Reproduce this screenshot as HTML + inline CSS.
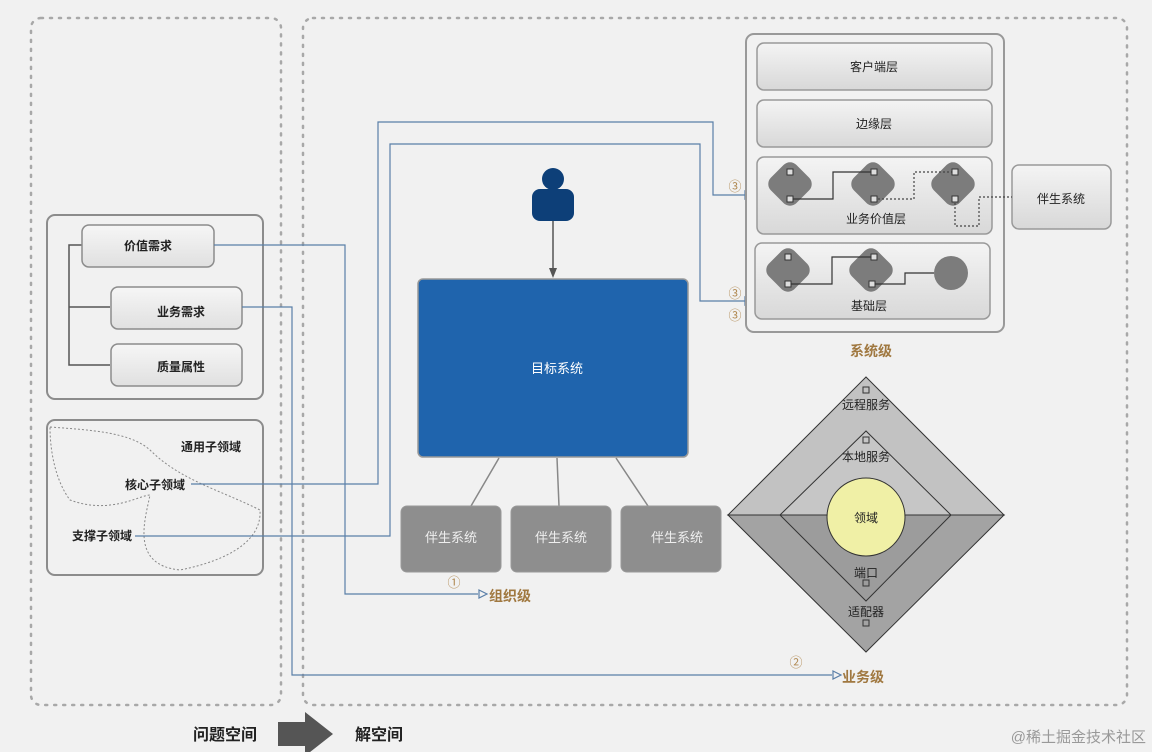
<!DOCTYPE html>
<html><head><meta charset="utf-8"><style>
html,body{margin:0;padding:0;background:#f1f1f1;}
svg{display:block;font-family:"Liberation Sans","Noto Sans CJK SC",sans-serif;}
</style></head><body>
<svg width="1152" height="752" viewBox="0 0 1152 752" xmlns="http://www.w3.org/2000/svg">
<defs>
<linearGradient id="g1" x1="0" y1="0" x2="0" y2="1"><stop offset="0" stop-color="#f4f4f4"/><stop offset="1" stop-color="#d8d8d8"/></linearGradient>
<linearGradient id="g2" x1="0" y1="0" x2="0" y2="1"><stop offset="0" stop-color="#f6f6f6"/><stop offset="1" stop-color="#e0e0e0"/></linearGradient>
</defs>
<rect width="1152" height="752" fill="#f1f1f1"/>
<!-- dotted areas -->
<rect x="31" y="18" width="250" height="687" rx="10" fill="none" stroke="#a8a8a8" stroke-width="2.5" stroke-dasharray="2 7" stroke-linecap="round"/>
<rect x="303" y="18" width="824" height="687" rx="10" fill="none" stroke="#a8a8a8" stroke-width="2.5" stroke-dasharray="2 7" stroke-linecap="round"/>

<!-- requirements box -->
<rect x="47" y="215" width="216" height="184" rx="8" fill="#f1f1f1" stroke="#8c8c8c" stroke-width="2"/>
<path d="M82 245H69V365H110M69 307H110" fill="none" stroke="#555" stroke-width="1.5"/>
<g stroke="#8c8c8c" stroke-width="1.5" fill="url(#g2)">
<rect x="82" y="225" width="132" height="42" rx="7"/>
<rect x="111" y="287" width="131" height="42" rx="7"/>
<rect x="111" y="344" width="131" height="42" rx="7"/>
</g>
<g font-size="12" font-weight="bold" fill="#222" text-anchor="middle">
<text x="148" y="250">价值需求</text>
<text x="181" y="316">业务需求</text>
<text x="181" y="371">质量属性</text>
</g>

<!-- subdomain box -->
<rect x="47" y="420" width="216" height="155" rx="8" fill="#f1f1f1" stroke="#8c8c8c" stroke-width="2"/>
<path d="M50 427 C90 430 130 432 150 450 C180 480 220 490 260 510 C262 540 230 560 180 570 C130 565 145 520 150 495 C140 495 110 515 70 500 C55 480 50 450 50 427 Z" fill="none" stroke="#888" stroke-width="1" stroke-dasharray="2 2"/>
<g font-size="12" font-weight="bold" fill="#222">
<text x="181" y="451">通用子领域</text>
<text x="125" y="489">核心子领域</text>
<text x="72" y="540">支撑子领域</text>
</g>

<!-- blue connectors -->
<g fill="none" stroke="#5a7fa8" stroke-width="1.2">
<path d="M214 245H345V594H478"/>
<path d="M242 307H292V675H832"/>
<path d="M191 484H378V122H713V195H752"/>
<path d="M135 536H390V144H700V301H752"/>
</g>
<g fill="#f1f1f1" stroke="#5a7fa8" stroke-width="1.2">
<path d="M479 590L487 594L479 598Z"/>
<path d="M833 671L841 675L833 679Z"/>
<path d="M745 191L753 195L745 199Z"/>
<path d="M745 297L753 301L745 305Z"/>
</g>
<g font-size="13" fill="#b08850" text-anchor="middle">
<text x="454" y="587">①</text>
<text x="796" y="667">②</text>
<text x="735" y="191">③</text>
<text x="735" y="298">③</text>
<text x="735" y="320">③</text>
</g>
<g font-size="14" font-weight="bold" fill="#a07840">
<text x="489" y="601">组织级</text>
<text x="842" y="682">业务级</text>
<text x="850" y="356">系统级</text>
</g>

<!-- person -->
<circle cx="553" cy="179" r="11" fill="#0d3f78"/>
<rect x="532" y="189" width="42" height="32" rx="8" fill="#0d3f78"/>
<path d="M553 221V270" stroke="#555" stroke-width="1.5"/>
<path d="M549 268L553 278L557 268Z" fill="#555"/>

<!-- target system -->
<rect x="418" y="279" width="270" height="178" rx="5" fill="#1f64ad" stroke="#999" stroke-width="1.5"/>
<text x="557" y="373" font-size="13" fill="#fff" text-anchor="middle">目标系统</text>
<g stroke="#888" stroke-width="1.5">
<path d="M499 458L471 506"/><path d="M557 458L559 506"/><path d="M616 458L648 506"/>
</g>
<g fill="#8e8e8e" stroke="#999" stroke-width="1">
<rect x="401" y="506" width="100" height="66" rx="6"/>
<rect x="511" y="506" width="100" height="66" rx="6"/>
<rect x="621" y="506" width="100" height="66" rx="6"/>
</g>
<g font-size="13" fill="#eee" text-anchor="middle">
<text x="451" y="542">伴生系统</text>
<text x="561" y="542">伴生系统</text>
<text x="677" y="542">伴生系统</text>
</g>

<!-- system level -->
<rect x="746" y="34" width="258" height="298" rx="8" fill="#f1f1f1" stroke="#999" stroke-width="2"/>
<g stroke="#999" stroke-width="1.5" fill="url(#g1)">
<rect x="757" y="43" width="235" height="47" rx="7"/>
<rect x="757" y="100" width="235" height="47" rx="7"/>
<rect x="757" y="157" width="235" height="77" rx="7"/>
<rect x="755" y="243" width="235" height="76" rx="7"/>
<rect x="1012" y="165" width="99" height="64" rx="7"/>
</g>
<g font-size="12" fill="#222" text-anchor="middle">
<text x="874" y="71">客户端层</text>
<text x="874" y="128">边缘层</text>
<text x="876" y="223">业务价值层</text>
<text x="869" y="310">基础层</text>
<text x="1061" y="203">伴生系统</text>
</g>
<g fill="#7c7c7c">
<rect x="772" y="166" width="36" height="36" rx="9" transform="rotate(45 790 184)"/>
<rect x="855" y="166" width="36" height="36" rx="9" transform="rotate(45 873 184)"/>
<rect x="935" y="166" width="36" height="36" rx="9" transform="rotate(45 953 184)"/>
<rect x="770" y="252" width="36" height="36" rx="9" transform="rotate(45 788 270)"/>
<rect x="853" y="252" width="36" height="36" rx="9" transform="rotate(45 871 270)"/>
<circle cx="951" cy="273" r="17"/>
</g>
<g fill="none" stroke="#333" stroke-width="1.2">
<path d="M792 199H833V172H874"/>
<path d="M790 284H832V257H874"/>
<path d="M873 284H905V273H934"/>
</g>
<g fill="none" stroke="#444" stroke-width="1.2" stroke-dasharray="2 2">
<path d="M874 199H914V172H955"/>
<path d="M955 199V226H979V197H1012"/>
</g>
<g fill="#ddd" stroke="#333" stroke-width="1">
<rect x="787" y="169" width="6" height="6"/><rect x="787" y="196" width="6" height="6"/>
<rect x="871" y="169" width="6" height="6"/><rect x="871" y="196" width="6" height="6"/>
<rect x="952" y="169" width="6" height="6"/><rect x="952" y="196" width="6" height="6"/>
<rect x="785" y="254" width="6" height="6"/><rect x="785" y="281" width="6" height="6"/>
<rect x="871" y="254" width="6" height="6"/><rect x="869" y="281" width="6" height="6"/>
</g>

<!-- hexagonal diamond -->
<path d="M728 515L866 377L1004 515Z" fill="#c2c2c2" stroke="#333" stroke-width="1"/>
<path d="M728 515L1004 515L866 652Z" fill="#a3a3a3" stroke="#333" stroke-width="1"/>
<path d="M780 515L866 431L951 515Z" fill="#c6c6c6" stroke="#333" stroke-width="1"/>
<path d="M780 515L951 515L866 601Z" fill="#9c9c9c" stroke="#333" stroke-width="1"/>
<circle cx="866" cy="517" r="39" fill="#f0f0a6" stroke="#333" stroke-width="1"/>
<g fill="none" stroke="#333" stroke-width="1">
<rect x="863" y="387" width="6" height="6"/><rect x="863" y="437" width="6" height="6"/>
<rect x="863" y="580" width="6" height="6"/><rect x="863" y="620" width="6" height="6"/>
</g>
<g font-size="12" fill="#222" text-anchor="middle">
<text x="866" y="409">远程服务</text>
<text x="866" y="461">本地服务</text>
<text x="866" y="522">领域</text>
<text x="866" y="577">端口</text>
<text x="866" y="616">适配器</text>
</g>

<!-- bottom -->
<g font-size="16" font-weight="bold" fill="#222">
<text x="193" y="740">问题空间</text>
<text x="355" y="740">解空间</text>
</g>
<path d="M278 722H305V712L333 734L305 756V746H278Z" fill="#555"/>
<text x="1146" y="742" font-size="15" fill="#999" text-anchor="end">@稀土掘金技术社区</text>
</svg>
</body></html>
